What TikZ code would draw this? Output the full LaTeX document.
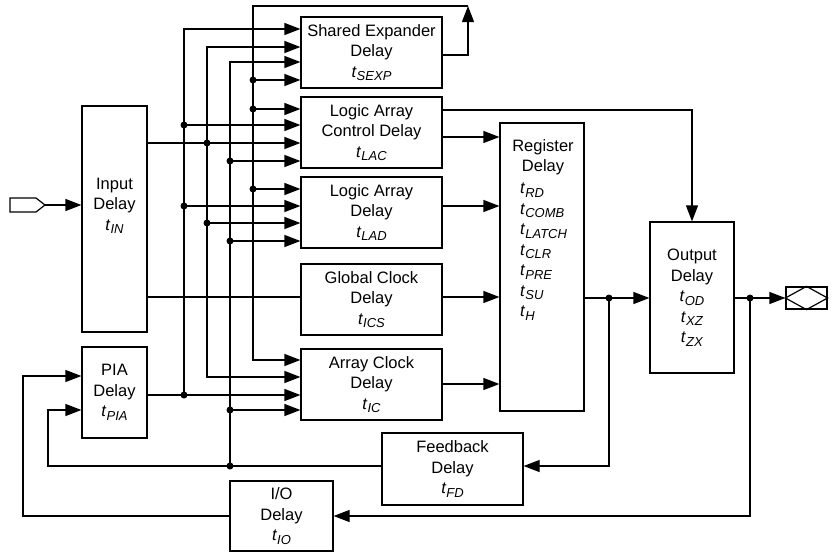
\documentclass[tikz,border=0pt]{standalone}
\usepackage{fontspec}
\setmainfont{Liberation Sans}
\usetikzlibrary{arrows.meta}
\newcommand{\tsym}[1]{\textit{t}\raisebox{-3.5pt}{\fontsize{13}{13}\selectfont\textit{#1}}}
\newcommand{\bodyfs}{\fontsize{16.5}{20.5}\selectfont}
\begin{document}
\begin{tikzpicture}[x=1pt,y=-1pt,
  box/.style={draw, line width=1.2pt, inner sep=0pt, align=center, font=\bodyfs},
  lbl/.style={inner sep=0pt, align=center, font=\bodyfs},
  wire/.style={line width=1.2pt},
  arr/.style={wire, -{Triangle[length=16pt,width=12pt]}},
  larr/.style={wire, {Triangle[length=16pt,width=12pt]}-},
  biarr/.style={wire, {Triangle[length=16pt,width=12pt]}-{Triangle[length=16pt,width=12pt]}},
  jdot/.style={circle, fill, inner sep=0pt, minimum size=7pt}]
\useasboundingbox (0,0) rectangle (838,552);

% boxes
\node[box, minimum width=141pt, minimum height=71pt] (se) at (371.5,52.5) {Shared Expander\\Delay\\\tsym{SEXP}};
\node[box, minimum width=141pt, minimum height=71pt] (lac) at (371.5,132.5) {Logic Array\\Control Delay\\\tsym{LAC}};
\node[box, minimum width=141pt, minimum height=71pt] (lad) at (371.5,212.5) {Logic Array\\Delay\\\tsym{LAD}};
\node[box, minimum width=141pt, minimum height=71pt] (gcd) at (371.5,299.5) {Global Clock\\Delay\\\tsym{ICS}};
\node[box, minimum width=141pt, minimum height=71pt] (acd) at (371.5,384.5) {Array Clock\\Delay\\\tsym{IC}};
\node[box, minimum width=65pt, minimum height=226pt] (in) at (114.5,219) {};
\node[lbl] (inlbl) at (114.5,206) {Input\\Delay\\\tsym{IN}};
\node[box, minimum width=65pt, minimum height=91pt] (pia) at (114.5,392.5) {PIA\\Delay\\\tsym{PIA}};
\node[box, minimum width=84pt, minimum height=288pt] (reg) at (542,267) {};
\node[lbl] (regtitle) at (543,157) {Register\\Delay};
\node[lbl, anchor=north west, align=left] (regt) at (520,183) {\tsym{RD}\\\tsym{COMB}\\\tsym{LATCH}\\\tsym{CLR}\\\tsym{PRE}\\\tsym{SU}\\\tsym{H}};
\node[box, minimum width=84pt, minimum height=151pt] (out) at (692,297.5) {Output\\Delay\\\tsym{OD}\\\tsym{XZ}\\\tsym{ZX}};
\node[box, minimum width=141pt, minimum height=72pt] (fb) at (452.5,469) {Feedback\\Delay\\\tsym{FD}};
\node[box, minimum width=103pt, minimum height=70pt] (io) at (281.5,516) {I/O\\Delay\\\tsym{IO}};
\node[draw, line width=1.2pt, inner sep=0pt, minimum width=41pt, minimum height=22pt] (oport) at (806.5,298) {};
\draw[wire] (oport.west) -- (oport.north) -- (oport.east) -- (oport.south) -- cycle;

% coordinates
\coordinate (b1t) at (184,29);
\coordinate (b2t) at (207,47);
\coordinate (b3t) at (230,62);
\coordinate (b4t) at (253,6);
\coordinate (b2b) at (207,377);
\coordinate (b4b) at (253,360);
\coordinate (seo) at (468,6);
\coordinate (seoy) at (0,55);
\coordinate (fbc1) at (48,466);
\coordinate (fbc2) at (48,410);
\coordinate (ioc) at (23,376);
\coordinate (ip) at (45,205);
\coordinate (gy) at (0,297);
\coordinate (ly1) at (0,110);
\coordinate (ly2) at (0,137);
\coordinate (ly3) at (0,206);
\coordinate (ly4) at (0,384);
\coordinate (ioy) at (0,516);

% junction dots
\node[jdot] (j1) at (253,80) {};
\node[jdot] (j2) at (253,109) {};
\node[jdot] (j3) at (184,125) {};
\node[jdot] (j4) at (207,143) {};
\node[jdot] (j5) at (230,161) {};
\node[jdot] (j6) at (253,189) {};
\node[jdot] (j7) at (184,206) {};
\node[jdot] (j8) at (207,223) {};
\node[jdot] (j9) at (230,241) {};
\node[jdot] (j10) at (184,395) {};
\node[jdot] (j11) at (230,410) {};
\node[jdot] (j12) at (230,466) {};
\node[jdot] (j13) at (609,298) {};
\node[jdot] (j14) at (750,298) {};

% input port
\draw[wire] (10,198) -- (36,198) -- (ip) -- (36,212) -- (10,212) -- cycle;
\draw[arr] (ip) -- (in.west |- ip);

% buses
\draw[larr] (se.west |- b1t) -- (b1t) -- (j10.center);
\draw[biarr] (se.west |- b2t) -- (b2t) -- (b2b) -- (acd.west |- b2b);
\draw[larr] (se.west |- b3t) -- (b3t) -- (j12.center);
\draw[arr] (se.east |- seoy) -| (seo);
\draw[arr] (seo) -- (b4t) -- (b4b) -- (acd.west |- b4b);

% branches
\draw[arr] (j1.center) -- (se.west |- j1);
\draw[arr] (j2.center) -- (lac.west |- j2);
\draw[arr] (j3.center) -- (lac.west |- j3);
\draw[arr] (in.east |- j4) -- (lac.west |- j4);
\draw[arr] (j5.center) -- (lac.west |- j5);
\draw[arr] (j6.center) -- (lad.west |- j6);
\draw[arr] (j7.center) -- (lad.west |- j7);
\draw[arr] (j8.center) -- (lad.west |- j8);
\draw[arr] (j9.center) -- (lad.west |- j9);
\draw[arr] (pia.east |- j10) -- (acd.west |- j10);
\draw[arr] (j11.center) -- (acd.west |- j11);
\draw[wire] (in.east |- gy) -- (gcd.west |- gy);

% feedback and I/O loops
\draw[arr] (fb.west |- j12) -- (fbc1) -- (fbc2) -- (pia.west |- fbc2);
\draw[arr] (io.west |- ioy) -| (ioc) -- (pia.west |- ioc);

% outputs to register / output
\draw[arr] (lac.east |- ly1) -| (out.north);
\draw[arr] (lac.east |- ly2) -- (reg.west |- ly2);
\draw[arr] (lad.east |- ly3) -- (reg.west |- ly3);
\draw[arr] (gcd.east |- gy) -- (reg.west |- gy);
\draw[arr] (acd.east |- ly4) -- (reg.west |- ly4);
\draw[arr] (reg.east |- j13) -- (out.west |- j13);
\draw[arr] (j13.center) |- (fb.east |- j12);
\draw[arr] (out.east |- j14) -- (oport.west);
\draw[arr] (j14.center) |- (io.east |- ioy);
\end{tikzpicture}
\end{document}
